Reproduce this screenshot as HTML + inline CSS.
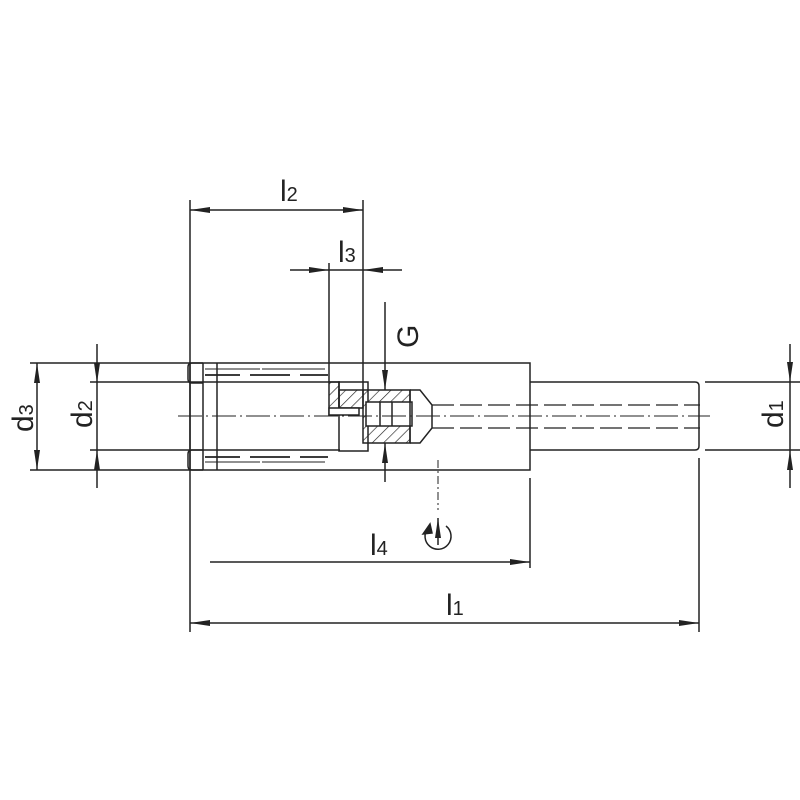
<!DOCTYPE html>
<html><head><meta charset="utf-8"><style>html,body{margin:0;padding:0;background:#fff}svg{display:block}</style></head>
<body>
<svg width="800" height="800" viewBox="0 0 800 800" xmlns="http://www.w3.org/2000/svg" font-family="Liberation Sans, DejaVu Sans, sans-serif">
<defs>
<marker id="a" viewBox="0 0 20 8" refX="20" refY="4" markerWidth="20" markerHeight="8" markerUnits="userSpaceOnUse" orient="auto-start-reverse"><path d="M0,1 L20,4 L0,7 z" fill="#222"/></marker>
<pattern id="h" width="8" height="8" patternUnits="userSpaceOnUse" patternTransform="rotate(45)"><line x1="0" y1="0" x2="0" y2="8" stroke="#222" stroke-width="1.3"/></pattern>
</defs>
<g stroke="#222" stroke-width="1.5" fill="none">
<line x1="190" y1="200" x2="190" y2="632"/>
<line x1="363" y1="200" x2="363" y2="390"/>
<line x1="329" y1="263" x2="329" y2="382"/>
<line x1="530" y1="478" x2="530" y2="568"/>
<line x1="699" y1="458" x2="699" y2="632"/>
<line x1="30" y1="363" x2="190" y2="363"/>
<line x1="30" y1="470" x2="190" y2="470"/>
<line x1="90" y1="382" x2="340" y2="382"/>
<line x1="90" y1="450" x2="340" y2="450"/>
<line x1="705" y1="382" x2="800" y2="382"/>
<line x1="705" y1="450" x2="800" y2="450"/>
<rect x="190" y="363" width="340" height="107"/>
<path d="M530,382 H695 Q699,382 699,386 V446 Q699,450 695,450 H530"/>
<path d="M203,363 H192 Q188,363 188,367 V379 Q188,383 192,383 H203 M203,450 H192 Q188,450 188,454 V466 Q188,470 192,470 H203"/>
<line x1="203" y1="363" x2="203" y2="470"/>
<line x1="217" y1="363" x2="217" y2="470"/>
<g stroke-width="1.8">
<path d="M205,375 H240 M250,375 H290 M300,375 H328"/>
<path d="M205,457 H240 M250,457 H290 M300,457 H328"/>
<path d="M205,369 H260 M262,369 H325 M205,462 H260 M262,462 H325" stroke-width="1"/>
</g>
<rect x="339" y="382" width="29" height="69"/>
<rect x="329" y="382" width="10" height="33" fill="url(#h)"/>
<rect x="339" y="390" width="24" height="18" fill="url(#h)"/>
<rect x="329" y="408" width="30" height="7" fill="#fff"/>
<rect x="363" y="390" width="47" height="53" fill="url(#h)"/>
<rect x="366" y="402" width="46" height="24" fill="#fff"/>
<line x1="380" y1="402" x2="380" y2="426"/>
<line x1="392" y1="402" x2="392" y2="426"/>
<path d="M410,390 H420 L432,405 V428 L420,443 H410"/>
<line x1="410" y1="390" x2="410" y2="443"/>
<path d="M432,405 H700 M432,428 H700" stroke-dasharray="22,6" stroke-width="1.2"/>
<line x1="178" y1="416" x2="710" y2="416" stroke-width="1" stroke-dasharray="24,4,2,4"/>
<line x1="438" y1="460" x2="438" y2="510" stroke-width="1" stroke-dasharray="8,3,2,3"/>
<line x1="438" y1="545" x2="438" y2="518" marker-end="url(#a)"/>
<path d="M428,528 A13,13 0 1 0 446,526"/>
<path d="M423,534 L430,524 L432,533 z" fill="#222"/>
<line x1="190" y1="210" x2="363" y2="210" marker-start="url(#a)" marker-end="url(#a)"/>
<line x1="290" y1="270" x2="329" y2="270" marker-end="url(#a)"/>
<line x1="402" y1="270" x2="363" y2="270" marker-end="url(#a)"/>
<line x1="329" y1="270" x2="363" y2="270"/>
<line x1="385" y1="302" x2="385" y2="390" marker-end="url(#a)"/>
<line x1="385" y1="482" x2="385" y2="443" marker-end="url(#a)"/>
<line x1="210" y1="562" x2="530" y2="562" marker-end="url(#a)"/>
<line x1="190" y1="623" x2="699" y2="623" marker-start="url(#a)" marker-end="url(#a)"/>
<line x1="37" y1="363" x2="37" y2="470" marker-start="url(#a)" marker-end="url(#a)"/>
<line x1="97" y1="344" x2="97" y2="383" marker-end="url(#a)"/>
<line x1="97" y1="488" x2="97" y2="450" marker-end="url(#a)"/>
<line x1="97" y1="383" x2="97" y2="450"/>
<line x1="790" y1="344" x2="790" y2="382" marker-end="url(#a)"/>
<line x1="790" y1="488" x2="790" y2="450" marker-end="url(#a)"/>
<line x1="790" y1="382" x2="790" y2="450"/>
</g>
<g fill="#222" font-size="30">
<text x="280" y="201">l<tspan font-size="20">2</tspan></text>
<text x="338" y="262">l<tspan font-size="20">3</tspan></text>
<text x="370" y="555">l<tspan font-size="20">4</tspan></text>
<text x="446" y="615">l<tspan font-size="20">1</tspan></text>
<text transform="translate(418,348) rotate(-90)">G</text>
<text transform="translate(33,432) rotate(-90)">d<tspan font-size="20">3</tspan></text>
<text transform="translate(92,428) rotate(-90)">d<tspan font-size="20">2</tspan></text>
<text transform="translate(783,428) rotate(-90)">d<tspan font-size="20">1</tspan></text>
</g>
</svg>
</body></html>
